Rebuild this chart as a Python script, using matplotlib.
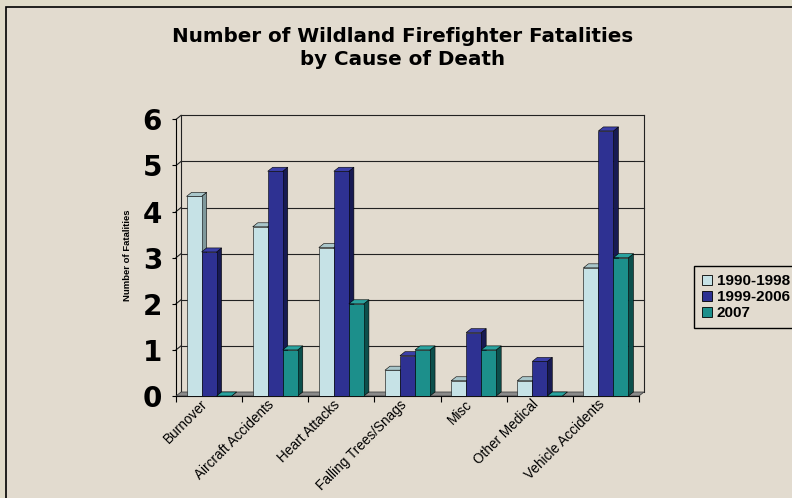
import matplotlib.pyplot as plt
import numpy as np
from matplotlib.patches import Polygon, Rectangle, Patch
from matplotlib.transforms import ScaledTranslation

causes = ['Burnover', 'Aircraft Accidents', 'Heart Attacks', 'Falling Trees/Snags',
          'Misc', 'Other Medical', 'Vehicle Accidents']
avg_1990_1998 = [4.33, 3.67, 3.22, 0.56, 0.33, 0.33, 2.78]
avg_1999_2006 = [3.125, 4.875, 4.875, 0.875, 1.375, 0.75, 5.75]
year_2007 = [0, 1, 2, 1, 1, 0, 3]
series_names = ['1990-1998', '1999-2006', '2007']

front_colors = ['#c6e2e6', '#2e3192', '#1c8f8b']
side_colors = ['#7f999c', '#171a52', '#0c4f4c']
top_colors = ['#a9c6ca', '#3b3fa8', '#2aa39f']

bg = '#e2dbcf'
plt.rcParams['font.family'] = ['Liberation Sans', 'DejaVu Sans']

fig = plt.figure(figsize=(7.92, 4.98), dpi=100, facecolor='#e0dbc9')
fig.patches.append(Rectangle((6 / 792, -0.1), 1.1, 1.1 - 7 / 498, transform=fig.transFigure,
                             facecolor=bg, edgecolor='black', linewidth=1.2, zorder=-5))

ax = fig.add_axes([176 / 792, 102 / 498, 463 / 792, 276.6 / 498])
ax.set_facecolor('none')
ax.set_xlim(-0.5, 6.5)
ax.set_ylim(0, 6)

# depth of the fake 3D effect, in data units
ddx, ddy = 0.076, 0.087
x0, x1 = -0.5, 6.5

# back wall and gridlines
for k in range(1, 7):
    ax.plot([x0 + ddx, x1 + ddx], [k + ddy, k + ddy], color='#222222', lw=0.8, zorder=0.5, clip_on=False)
    ax.plot([x0, x0 + ddx], [k, k + ddy], color='#222222', lw=0.8, zorder=0.5, clip_on=False)
ax.plot([x0 + ddx, x0 + ddx], [ddy, 6 + ddy], color='#222222', lw=0.8, zorder=0.5, clip_on=False)
ax.plot([x1 + ddx, x1 + ddx], [ddy, 6 + ddy], color='#222222', lw=0.8, zorder=0.5, clip_on=False)

# floor
ax.add_patch(Polygon([(x0, 0), (x1, 0), (x1 + ddx, ddy), (x0 + ddx, ddy)], closed=True,
                     facecolor='#8a8a8a', edgecolor='#333333', lw=0.5, zorder=1, clip_on=False))

x = np.arange(len(causes))
width = 0.227
z = 2
for i in range(len(causes)):
    for j, vals in enumerate([avg_1990_1998, avg_1999_2006, year_2007]):
        h = vals[i]
        left = x[i] + (j - 1) * width - width / 2
        right = left + width
        ax.add_patch(Polygon([(right, 0), (right + ddx, ddy), (right + ddx, h + ddy), (right, h)],
                             closed=True, facecolor=side_colors[j], edgecolor='black', lw=0.4,
                             zorder=z, clip_on=False))
        ax.add_patch(Polygon([(left, h), (left + ddx, h + ddy), (right + ddx, h + ddy), (right, h)],
                             closed=True, facecolor=top_colors[j], edgecolor='black', lw=0.4,
                             zorder=z, clip_on=False))
        ax.bar(left + width / 2, h, width, color=front_colors[j], edgecolor='black', lw=0.4,
               zorder=z + 0.5)
        z += 1

ax.spines['top'].set_visible(False)
ax.spines['right'].set_visible(False)
ax.spines['left'].set_linewidth(0.8)
ax.spines['bottom'].set_linewidth(0.8)
ax.spines['left'].set_zorder(0.6)
ax.spines['bottom'].set_zorder(0.6)

ax.set_yticks(range(7))
ax.set_yticklabels([str(k) for k in range(7)], fontsize=20, fontweight='heavy', family='DejaVu Sans')
ax.tick_params(axis='y', length=3, width=0.8, pad=7)

ax.set_xticks(np.arange(-0.5, 7, 1))
ax.set_xticklabels([])
ax.tick_params(axis='x', which='major', length=4, width=0.8)
ax.set_xticks(x, minor=True)
ax.set_xticklabels(causes, minor=True, rotation=45, ha='right', rotation_mode='anchor', fontsize=9.8)
ax.tick_params(axis='x', which='minor', length=0, pad=4)
for lbl in ax.get_xticklabels(minor=True):
    lbl.set_transform(lbl.get_transform() + ScaledTranslation(-6 / 72, 3 / 72, fig.dpi_scale_trans))

fig.text(127 / 792, 1 - 255 / 498, 'Number of Fatalities', rotation=90, ha='center', va='center',
         fontsize=6.8, fontweight='bold')
fig.text(403 / 792, 1 - 48 / 498, 'Number of Wildland Firefighter Fatalities\nby Cause of Death',
         ha='center', va='center', fontsize=14.3, fontweight='bold', linespacing=1.28,
         family='DejaVu Sans')

handles = [Patch(facecolor=c, edgecolor='black', lw=0.6) for c in front_colors]
leg = fig.legend(handles, series_names, loc='upper left', bbox_to_anchor=(694 / 792, 1 - 266 / 498),
                 borderaxespad=0, fancybox=False, edgecolor='black', facecolor=bg, framealpha=1,
                 prop={'weight': 'bold', 'size': 11}, handlelength=0.6, handleheight=0.6,
                 handletextpad=0.35, labelspacing=0.12, borderpad=0.55)
leg.get_frame().set_linewidth(1.0)

plt.savefig('out.png', dpi=100, facecolor=fig.get_facecolor())
